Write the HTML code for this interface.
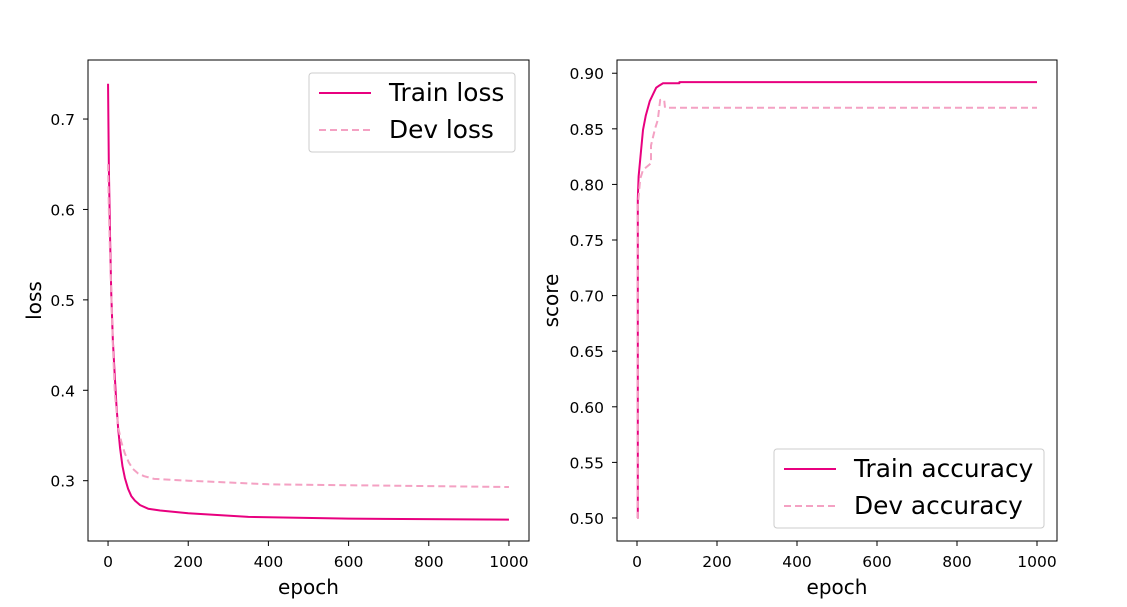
<!DOCTYPE html>
<html><head><meta charset="utf-8"><style>
body{margin:0;background:#fff;font-family:"DejaVu Sans","Liberation Sans",sans-serif}
</style></head><body>
<svg width="1127" height="603" xmlns="http://www.w3.org/2000/svg" id="svg" font-family="DejaVu Sans, Liberation Sans, sans-serif">
<rect width="1127" height="603" fill="#fff"/>
</svg>
<script>
const lossEpochs=[0,2,5,8,12,17,21,25,30,36,42,50,58,67,80,100,130,200,350,600,1000];
const trainLoss=[0.739,0.647,0.57,0.507,0.455,0.414,0.383,0.359,0.336,0.316,0.303,0.291,0.283,0.278,0.273,0.269,0.267,0.264,0.260,0.258,0.257];
const devEpochs=[0,2,5,8,12,17,25,33,42,52,62,75,90,115,200,400,600,1000];
const devLoss=[0.65,0.60,0.55,0.51,0.45,0.396,0.36,0.343,0.33,0.32,0.313,0.308,0.305,0.302,0.300,0.296,0.295,0.293];
const accEpochs=[0,2,2,4,10,15,22,32,40,48,56,65,106,106,1000];
const trainAcc=[0.5,0.5,0.787,0.807,0.83,0.849,0.862,0.875,0.881,0.887,0.889,0.891,0.891,0.892,0.892];
const devAccEpochs=[0,2,2,8,15,35,35,45,52,58,62,68,70,1000];
const devAcc=[0.5,0.5,0.78,0.805,0.813,0.819,0.835,0.85,0.858,0.876,0.876,0.876,0.869,0.869];
const xTicks=[0,200,400,600,800,1000];
const lossTicks=[0.3,0.4,0.5,0.6,0.7];
const accTicks=[0.50,0.55,0.60,0.65,0.70,0.75,0.80,0.85,0.90];
const NS='http://www.w3.org/2000/svg';
const svg=document.getElementById('svg');
function mk(t,a,p){const e=document.createElementNS(NS,t);for(const k in a)e.setAttribute(k,a[k]);(p||svg).appendChild(e);return e;}
function panel(L,R,T,B,x0,x1,y0,y1,yTicks,dec,ylab,yOff,series,leg,name){
 const g=mk('g',{});
 
 
 const sx=v=>L+(v-x0)/(x1-x0)*(R-L), sy=v=>B-(v-y0)/(y1-y0)*(B-T);
 series.forEach(s=>{
  const p=mk('polyline',{points:s.x.map((e,i)=>sx(e)+','+sy(s.y[i])).join(' '),fill:'none',stroke:s.c,'stroke-width':2,'stroke-dasharray':s.d||'','stroke-linejoin':'round'},g);
  
  
 });
 const fr=mk('rect',{x:L,y:T,width:R-L,height:B-T,fill:'none',stroke:'#000','stroke-width':1},g);
 
 
 xTicks.forEach(v=>{const x=sx(v);mk('line',{x1:x,x2:x,y1:B,y2:B+5,stroke:'#000'},g);
  const t=mk('text',{x:x,y:B+26,'font-size':15.5,'text-anchor':'middle'},g);t.textContent=v;
  });
 yTicks.forEach(v=>{const y=sy(v);mk('line',{x1:L-5,x2:L,y1:y,y2:y,stroke:'#000'},g);
  const t=mk('text',{x:L-13,y:y+6,'font-size':15.5,'text-anchor':'end'},g);t.textContent=v.toFixed(dec);
  });
 const xl=mk('text',{x:(L+R)/2,y:B+53,'font-size':20,'text-anchor':'middle'},g);xl.textContent='epoch';
 
 const yl=mk('text',{x:0,y:0,'font-size':20,'text-anchor':'middle',transform:`translate(${L-yOff},${(T+B)/2}) rotate(-90)`},g);yl.textContent=ylab;
 
 const lg=mk('g',{},g);
 
 
 mk('rect',{x:leg.x,y:leg.y,width:leg.w,height:79,rx:3,fill:'#fff',stroke:'#ccc'},lg);
 series.forEach((s,i)=>{const y=leg.y+20+i*37;
  mk('line',{x1:leg.x+10,x2:leg.x+62,y1:y,y2:y,stroke:s.c,'stroke-width':2,'stroke-dasharray':s.d||''},lg);
  const t=mk('text',{x:leg.x+80,y:y+8,'font-size':24.8},lg);t.textContent=s.label;
  });
}
panel(88,529,60,541,-50,1050,0.2333,0.7653,lossTicks,1,'loss',47,[
 {x:lossEpochs,y:trainLoss,c:'#e8007f',n:'train-loss-line',label:'Train loss'},
 {x:devEpochs,y:devLoss,c:'#f4a1c3',d:'7,4',n:'dev-loss-line',label:'Dev loss'}],{x:309,y:73,w:206},'loss-panel');
panel(617,1057,60,541,-50,1050,0.4793,0.9119,accTicks,2,'score',59,[
 {x:accEpochs,y:trainAcc,c:'#e8007f',n:'train-accuracy-line',label:'Train accuracy'},
 {x:devAccEpochs,y:devAcc,c:'#f4a1c3',d:'7,4',n:'dev-accuracy-line',label:'Dev accuracy'}],{x:774,y:449,w:270},'accuracy-panel');
</script>
</body></html>
